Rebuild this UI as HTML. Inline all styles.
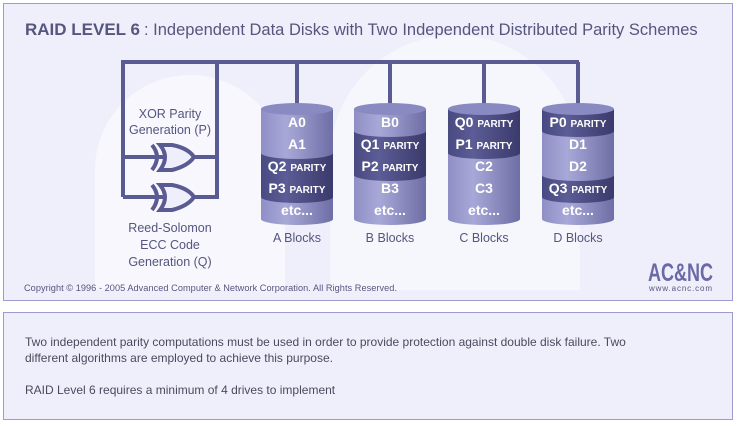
<!DOCTYPE html>
<html><head><meta charset="utf-8"><style>
body{margin:0;background:#fff;width:737px;height:426px;position:relative;font-family:"Liberation Sans",sans-serif;overflow:hidden}
.p1{position:absolute;left:3px;top:3px;width:728px;height:296px;background:#efeffb;border:1px solid #9c9bcc}
.p2{position:absolute;left:3px;top:312px;width:728px;height:106px;background:#efeffb;border:1px solid #9c9bcc;font-size:12px;color:#4a4a5e;line-height:16px}
</style></head><body>
<div class="p1"></div>
<svg width="737" height="302" style="position:absolute;left:0;top:0">
<defs>
<linearGradient id="gl" x1="0" x2="1"><stop offset="0" stop-color="#8f8fc6"/><stop offset="0.35" stop-color="#a8a8d8"/><stop offset="1" stop-color="#6e6ea6"/></linearGradient>
<linearGradient id="gd" x1="0" x2="1"><stop offset="0" stop-color="#4a4a82"/><stop offset="0.35" stop-color="#5c5c96"/><stop offset="1" stop-color="#3a3a6c"/></linearGradient>
</defs>
<path d="M95 290 L95 170 A95 95 0 0 1 285 170 L285 290 Z" fill="#f7f7fd"/>
<path d="M330 290 L330 160 A125 125 0 0 1 580 160 L580 290 Z" fill="#f6f6fd"/>
<text x="25" y="35" font-size="17" fill="#55557f" font-weight="bold">RAID LEVEL 6</text>
<text x="144" y="35" font-size="16.5" fill="#55557f">: Independent Data Disks with Two Independent Distributed Parity Schemes</text>
<g stroke="#5b5b93" stroke-width="4" fill="none">
<path d="M123 197 L123 62 L579 62"/>
<path d="M217 62 L217 197 L123 197"/>
<path d="M123 157 L217 157"/>
<path d="M297 62V105M390 62V105M484 62V105M578 62V105"/>
</g>
<g fill="#efeffb" stroke="#5b5b93" stroke-width="4">
<path d="M160 145 Q170 157 160 170 L172 170 Q188 166 194 157 Q188 148 172 145 Z"/>
<path d="M160 185 Q170 197 160 210 L172 210 Q188 206 194 197 Q188 188 172 185 Z"/>
</g>
<g fill="none" stroke="#5b5b93" stroke-width="4"><path d="M152 145 Q162 157 152 170M152 185 Q162 197 152 210"/></g>
<g font-size="12.5" fill="#55557f" text-anchor="middle">
<text x="170" y="118">XOR Parity</text><text x="170" y="134">Generation (P)</text>
<text x="170" y="232">Reed-Solomon</text><text x="170" y="249">ECC  Code</text><text x="170" y="266">Generation (Q)</text>
<text x="297" y="242">A Blocks</text><text x="390" y="242">B Blocks</text><text x="484" y="242">C Blocks</text><text x="578" y="242">D Blocks</text>
</g>
<g transform="translate(297,0)">
<path d="M-36 197 L-36 219 A36 6 0 0 0 36 219 L36 197 Z" fill="url(#gl)"/>
<path d="M-36 175 L-36 197 A36 6 0 0 0 36 197 L36 175 Z" fill="url(#gd)"/>
<path d="M-36 153 L-36 175 A36 6 0 0 0 36 175 L36 153 Z" fill="url(#gd)"/>
<path d="M-36 131 L-36 153 A36 6 0 0 0 36 153 L36 131 Z" fill="url(#gl)"/>
<path d="M-36 109 L-36 131 A36 6 0 0 0 36 131 L36 109 Z" fill="url(#gl)"/>
<ellipse cx="0" cy="109" rx="36" ry="6" fill="#8a8ac2"/>
</g>
<g transform="translate(390,0)">
<path d="M-36 197 L-36 219 A36 6 0 0 0 36 219 L36 197 Z" fill="url(#gl)"/>
<path d="M-36 175 L-36 197 A36 6 0 0 0 36 197 L36 175 Z" fill="url(#gl)"/>
<path d="M-36 153 L-36 175 A36 6 0 0 0 36 175 L36 153 Z" fill="url(#gd)"/>
<path d="M-36 131 L-36 153 A36 6 0 0 0 36 153 L36 131 Z" fill="url(#gd)"/>
<path d="M-36 109 L-36 131 A36 6 0 0 0 36 131 L36 109 Z" fill="url(#gl)"/>
<ellipse cx="0" cy="109" rx="36" ry="6" fill="#8a8ac2"/>
</g>
<g transform="translate(484,0)">
<path d="M-36 197 L-36 219 A36 6 0 0 0 36 219 L36 197 Z" fill="url(#gl)"/>
<path d="M-36 175 L-36 197 A36 6 0 0 0 36 197 L36 175 Z" fill="url(#gl)"/>
<path d="M-36 153 L-36 175 A36 6 0 0 0 36 175 L36 153 Z" fill="url(#gl)"/>
<path d="M-36 131 L-36 153 A36 6 0 0 0 36 153 L36 131 Z" fill="url(#gd)"/>
<path d="M-36 109 L-36 131 A36 6 0 0 0 36 131 L36 109 Z" fill="url(#gd)"/>
<ellipse cx="0" cy="109" rx="36" ry="6" fill="#8a8ac2"/>
</g>
<g transform="translate(578,0)">
<path d="M-36 197 L-36 219 A36 6 0 0 0 36 219 L36 197 Z" fill="url(#gl)"/>
<path d="M-36 175 L-36 197 A36 6 0 0 0 36 197 L36 175 Z" fill="url(#gd)"/>
<path d="M-36 153 L-36 175 A36 6 0 0 0 36 175 L36 153 Z" fill="url(#gl)"/>
<path d="M-36 131 L-36 153 A36 6 0 0 0 36 153 L36 131 Z" fill="url(#gl)"/>
<path d="M-36 109 L-36 131 A36 6 0 0 0 36 131 L36 109 Z" fill="url(#gd)"/>
<ellipse cx="0" cy="109" rx="36" ry="6" fill="#8a8ac2"/>
</g>
<g fill="#fff" font-weight="bold" font-size="14" text-anchor="middle">
<text x="297" y="127">A0</text><text x="297" y="149">A1</text>
<text x="297" y="171">Q2 <tspan font-size="10">PARITY</tspan></text>
<text x="297" y="193">P3 <tspan font-size="10">PARITY</tspan></text>
<text x="297" y="215">etc...</text>
<text x="390" y="127">B0</text>
<text x="390" y="149">Q1 <tspan font-size="10">PARITY</tspan></text>
<text x="390" y="171">P2 <tspan font-size="10">PARITY</tspan></text>
<text x="390" y="193">B3</text><text x="390" y="215">etc...</text>
<text x="484" y="127">Q0 <tspan font-size="10">PARITY</tspan></text>
<text x="484" y="149">P1 <tspan font-size="10">PARITY</tspan></text>
<text x="484" y="171">C2</text><text x="484" y="193">C3</text><text x="484" y="215">etc...</text>
<text x="578" y="127">P0 <tspan font-size="10">PARITY</tspan></text>
<text x="578" y="149">D1</text><text x="578" y="171">D2</text>
<text x="578" y="193">Q3 <tspan font-size="10">PARITY</tspan></text>
<text x="578" y="215">etc...</text>
</g>
<text x="24" y="291" font-size="9.2" fill="#55557f" textLength="373">Copyright © 1996 - 2005 Advanced Computer &amp; Network Corporation. All Rights Reserved.</text>
<text x="648" y="281" font-size="25" font-weight="bold" fill="#6a6aa6" textLength="65" lengthAdjust="spacingAndGlyphs">AC&amp;NC</text>
<text x="649" y="291" font-size="8" fill="#55557f" textLength="63">www.acnc.com</text>
</svg>
<div class="p2"><div style="position:absolute;left:21px;top:21px;width:680px">Two independent parity computations must be used in order to provide protection against double disk failure. Two<br>different algorithms are employed to achieve this purpose.<br><br>RAID Level 6 requires a minimum of 4 drives to implement</div></div>
</body></html>
